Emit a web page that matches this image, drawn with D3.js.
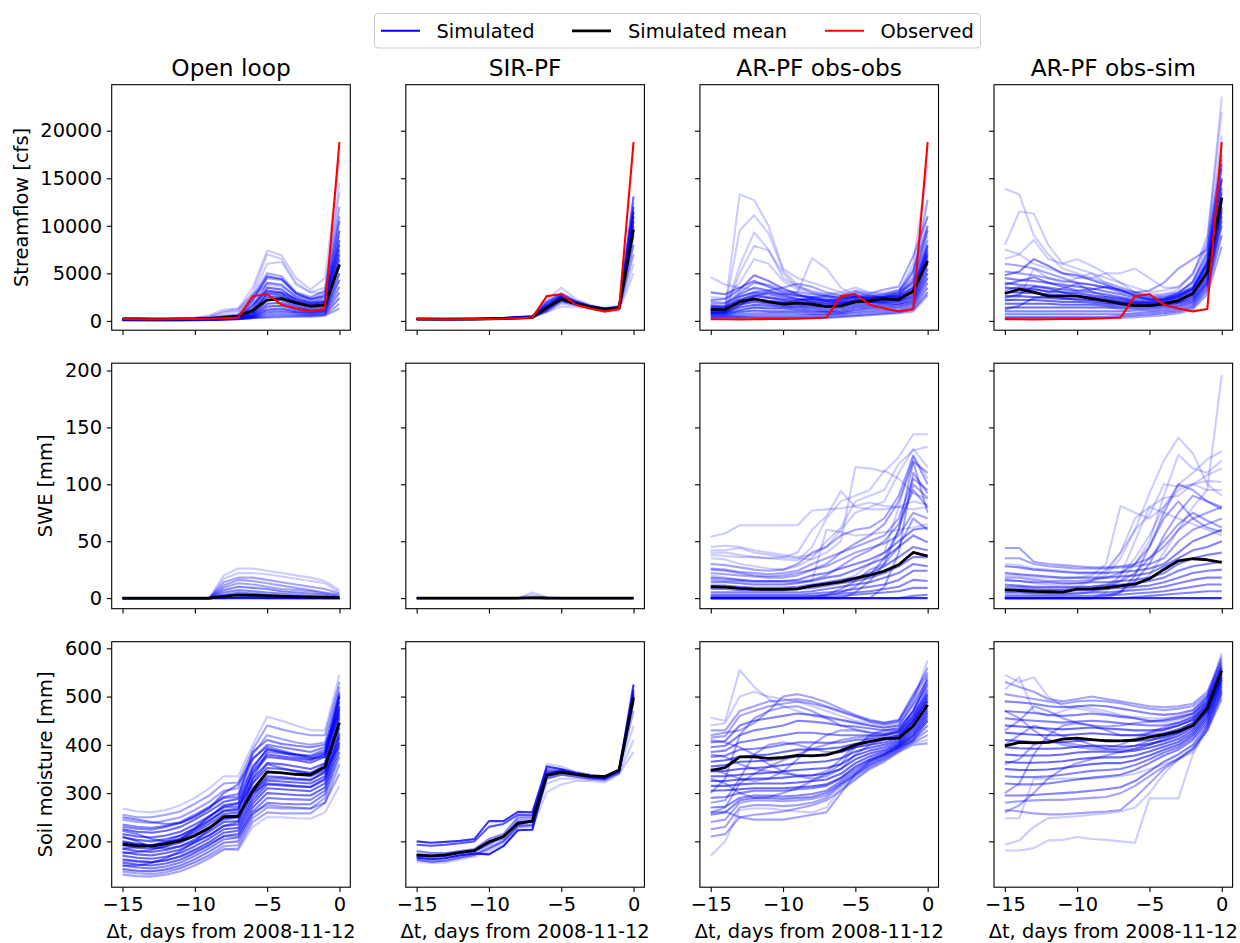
<!DOCTYPE html>
<html><head><meta charset="utf-8">
<script src="https://cdn.jsdelivr.net/npm/d3@7"></script>
<style>
body{margin:0;background:#fff}
svg{display:block}
text{font-family:"DejaVu Sans",sans-serif;fill:#000}
</style>
</head><body>
<svg id="c" width="1240" height="943"></svg>
<script>
// ---------------- DATA ----------------
const days = [-15,-14,-13,-12,-11,-10,-9,-8,-7,-6,-5,-4,-3,-2,-1,0];
const methods = ["Open loop","SIR-PF","AR-PF obs-obs","AR-PF obs-sim"];
const rowLabels = ["Streamflow [cfs]","SWE [mm]","Soil moisture [mm]"];
const xTicks = [-15,-10,-5,0];
const flowTicks = [0,5000,10000,15000,20000];
const sweTicks = [0,50,100,150,200];
const soilTicks = [200,300,400,500,600];
const xLabel = "Δt, days from 2008-11-12";
const legendLabels = ["Simulated","Simulated mean","Observed"];

const observedFlow = [180,170,160,170,190,200,230,280,350,2600,2800,1700,1300,1000,1250,18800];

// Streamflow, Open loop (each drawn line stands for "counts" similar members)
const flowOL = [
 [250,240,230,230,240,260,400,900,1300,3500,7400,6900,4500,3300,4500,16900],
 [220,210,200,200,210,240,350,700,1000,3000,7000,6500,4000,3000,3500,13500],
 [200,190,180,180,190,210,300,500,700,2500,5000,4700,3000,2500,3200,12000],
 [180,170,160,160,170,190,260,400,500,2000,4500,4300,2800,2200,2800,11000],
 [160,150,140,140,150,170,230,350,450,1500,4000,3800,2500,2000,2400,10500],
 [150,140,130,130,140,160,200,300,400,1200,3500,3300,2200,1800,2000,9500],
 [140,130,120,120,130,150,190,280,380,900,3000,2900,2000,1600,1800,8500],
 [130,120,110,110,120,140,170,260,350,800,2500,2500,1800,1400,1600,7500],
 [120,110,100,100,110,130,160,240,330,700,2200,2200,1600,1200,1400,6500],
 [110,100,90,90,100,120,150,220,300,600,1800,1900,1400,1100,1200,5800],
 [100,95,90,90,95,110,140,200,280,500,1500,1600,1200,1000,1100,5000],
 [100,90,85,85,90,100,130,190,260,450,1200,1300,1000,900,1000,4300],
 [90,85,80,80,85,95,120,170,240,400,1000,1100,900,800,900,3600],
 [90,80,75,75,80,90,110,160,220,350,800,900,800,700,800,3000],
 [80,75,70,70,75,85,100,150,200,320,600,700,650,600,700,2400],
 [80,70,65,65,70,80,95,140,180,300,400,500,500,500,600,1800],
 [70,65,60,60,65,75,90,130,170,280,350,400,450,450,550,1300],
 [300,290,280,280,300,350,600,1200,1300,2800,3800,3600,2600,2400,3000,14500],
 [200,195,190,190,200,220,280,450,550,2200,4700,4400,2900,2300,2600,8000],
 [170,160,150,150,160,180,220,320,420,1700,3200,3000,2300,1900,2100,7000],
 [260,250,240,240,250,280,450,1000,1100,2600,6000,6200,3800,3000,2900,9000],
 [150,145,140,140,145,160,200,300,380,1000,2800,2700,2000,1700,1900,6000]
];
const flowOLCounts = [1,1,2,2,3,4,4,4,4,4,4,4,3,3,3,2,2,1,4,4,1,4];
const flowOLMean = [210,200,190,190,200,220,260,350,490,1120,2175,2350,1900,1540,1650,5930];

// Streamflow, SIR-PF (identical resampled particles drawn with their copy count)
const flowSIR = [
 [230,220,210,220,230,250,300,400,480,2000,2900,2100,1600,1300,1500,13100],
 [220,210,200,210,220,240,290,380,460,1800,2700,2000,1550,1250,1450,12000],
 [210,200,195,200,210,230,280,370,450,1600,2600,1950,1500,1200,1400,11500],
 [200,195,190,195,205,225,270,360,440,1500,2500,1900,1480,1180,1380,11000],
 [200,190,185,190,200,220,260,350,430,1400,2400,1850,1450,1150,1350,10500],
 [195,185,180,185,195,215,255,340,420,1300,2300,1800,1420,1120,1320,10000],
 [190,180,175,180,190,210,250,330,410,1200,2200,1780,1400,1100,1300,9000],
 [185,175,170,175,185,200,240,320,400,1100,2100,1750,1380,1080,1280,8000],
 [180,170,165,170,180,195,235,310,390,1000,2000,1700,1350,1050,1250,7000],
 [175,165,160,165,175,190,230,300,380,950,1800,1650,1300,1000,1200,6000],
 [170,160,155,160,170,185,220,290,370,900,1500,1500,1250,950,1100,5000],
 [240,230,220,230,240,260,320,420,500,2200,3500,2300,1700,1350,1600,12500]
];
const flowSIRCounts = [4,5,7,6,5,4,3,3,2,1,1,1];
const flowSIRMean = [190,185,180,185,195,210,250,300,350,1370,2280,1820,1470,1260,1370,9600];

// Streamflow, AR-PF obs-obs
const flowOO = [
 [1500,1500,13300,12700,10000,5500,4500,4000,3500,3000,2500,2800,3000,3200,4000,8000],
 [1200,1300,9500,11100,9200,5300,3800,3000,2500,2300,2800,2500,2400,2600,5000,12800],
 [1000,1100,5800,9300,7500,4500,3600,3000,2800,3000,3500,3000,2800,3000,6000,16300],
 [900,1000,5000,7900,7400,5000,3500,3200,2800,2600,2400,2600,2800,3200,5500,11000],
 [4600,3800,3500,3300,3000,2800,3000,6600,5500,3500,2600,2400,2500,2700,4500,9800],
 [2500,2400,4000,6500,6000,4200,3300,2900,2700,2500,2700,2600,2800,3000,4000,9000],
 [1800,1800,3000,4000,3800,3200,3000,2800,2600,2400,2600,2500,2600,2800,3800,8500],
 [1500,1500,2800,3500,3200,2800,2600,2500,2300,2200,2500,2400,2500,2600,3500,8000],
 [1300,1300,2500,3000,2800,2500,2300,2200,2000,2000,2300,2200,2300,2400,3000,7500],
 [1200,1200,2200,2600,2400,2200,2000,2000,1800,1800,2200,2100,2200,2200,2800,7000],
 [1100,1100,2000,2300,2100,2000,1800,1800,1600,1700,2000,2000,2000,2100,2600,6500],
 [1000,1000,1700,2000,1800,1700,1600,1500,1400,1500,1800,1900,1900,2000,2400,6000],
 [900,900,1400,1700,1600,1500,1400,1300,1200,1300,1600,1700,1800,1800,2200,5500],
 [800,800,1100,1400,1300,1300,1200,1100,1000,1100,1400,1500,1600,1700,2000,5000],
 [700,700,900,1100,1000,1000,1000,900,900,900,1200,1300,1400,1500,1800,4500],
 [600,600,700,800,800,800,800,700,700,800,1000,1100,1200,1300,1600,4000],
 [500,500,500,600,600,600,600,600,600,700,800,900,1000,1100,1400,3500],
 [400,400,400,400,400,400,400,400,400,500,600,700,800,900,1200,3000],
 [300,300,300,300,300,300,300,300,300,400,500,600,700,800,1000,2700],
 [700,800,1200,1500,1400,1400,1500,1600,1500,1800,2200,2500,2800,3300,4500,12700],
 [2000,1900,2600,3000,3200,3500,3900,3600,3000,2700,3200,2900,3300,3600,6800,11000],
 [1600,1500,2200,2800,2500,2300,2200,2400,2200,2100,2500,2300,2600,3000,5200,10000],
 [3000,2800,3500,4200,3600,3000,2700,2500,2600,2400,3000,2700,2400,2500,3200,7800],
 [2200,2300,3300,4800,4200,3400,2800,2300,2100,2300,2600,2300,2500,2800,4200,9500],
 [800,900,1600,2600,3000,2700,2300,2000,1800,1900,2100,2200,2400,2600,3500,7200],
 [1400,1300,1800,2200,2000,1900,2100,2300,2100,1900,2000,2000,2100,2400,3200,6800]
];
const flowOOCounts = [1,1,1,1,1,1,2,3,3,4,4,4,4,4,4,3,3,3,2,1,2,3,3,3,3,3];
const flowOOMean = [1190,1190,2000,2320,2000,1750,1860,1750,1510,1580,2000,2140,2320,2250,3120,6280];

// Streamflow, AR-PF obs-sim
const flowOS = [
 [13900,13300,9000,7000,5500,5000,4500,4000,3500,3000,2800,2800,3000,4000,8000,23600],
 [8000,11500,11300,8000,6000,5500,5000,4500,4000,3500,3000,3200,3600,4800,9000,22000],
 [6500,7000,8500,6500,6000,6500,5800,5000,4000,3000,2600,2800,3300,5000,8500,19500],
 [7500,7000,6000,5500,5000,4500,4500,5000,5000,5500,4500,3500,3500,5000,8000,18000],
 [6000,5800,5500,5000,4500,4000,3800,3500,3200,3000,3200,4000,5500,6500,7500,17000],
 [5200,5000,4800,4500,4200,4000,3800,3500,3000,2800,2500,2600,3000,4000,7000,16000],
 [4500,4300,4200,4000,3800,3600,3400,3100,2800,2500,2300,2400,2800,3600,6500,15000],
 [4000,3800,3700,3500,3300,3100,3000,2800,2500,2300,2100,2200,2600,3300,6000,14000],
 [3500,3400,3300,3100,3000,2900,2700,2500,2300,2100,1900,2000,2400,3000,5500,13500],
 [3000,3000,2900,2800,2700,2600,2500,2300,2100,1900,1800,1900,2200,2800,5000,13000],
 [2600,2600,2500,2400,2300,2300,2200,2100,1900,1800,1700,1800,2000,2600,4800,12500],
 [2200,2200,2200,2100,2000,2000,1900,1800,1700,1600,1600,1700,1900,2400,4500,12000],
 [1800,1800,1800,1800,1700,1700,1700,1600,1500,1500,1500,1600,1800,2200,4200,11500],
 [1400,1400,1400,1400,1400,1400,1400,1400,1300,1300,1300,1400,1600,2000,4000,11000],
 [1000,1000,1000,1000,1000,1000,1000,1000,1000,1100,1100,1200,1400,1800,3800,10500],
 [700,700,700,700,700,700,700,700,700,800,900,1000,1200,1600,3500,10000],
 [400,400,400,400,400,400,400,400,500,600,700,800,1000,1400,3200,9000],
 [300,300,300,300,300,300,300,300,300,400,500,600,800,1200,2800,7800],
 [2000,2500,5500,4500,4000,4500,5000,4000,3500,3000,2500,2500,2800,3500,6000,15000],
 [3200,3600,3400,3000,3400,3900,3100,2600,2400,2000,2000,2300,2900,4200,7200,17500],
 [4800,5200,6500,5800,5000,4800,4300,3800,3200,2700,2300,2200,2600,3400,6200,16500],
 [3800,4200,4600,4000,3600,3200,3300,3600,3300,2600,2200,2300,2700,3400,6000,14800],
 [2400,2800,3600,3400,3000,2700,2400,2200,2000,1900,1900,2100,2500,3200,5800,12800],
 [1200,1600,2400,2600,2400,2200,2100,1900,1800,1700,1600,1800,2100,2800,5200,11800]
];
const flowOSCounts = [1,1,1,1,2,2,3,3,4,4,4,4,4,4,3,3,3,2,1,2,3,3,3,3];
const flowOSMean = [2880,3330,3020,2600,2600,2600,2350,2100,1820,1610,1610,1790,2140,2880,5120,12950];

// SWE, Open loop
const sweOL = [
 [0,0,0,0,0,0,0,20,26,26,24,22,20,18,15,7],
 [0,0,0,0,0,0,0,17,22,22,21,19,17,15,13,5],
 [0,0,0,0,0,0,0,14,18,18,16,14,12,10,8,4],
 [0,0,0,0,0,0,0,11,16,15,13,11,9,7,5,3],
 [0,0,0,0,0,0,0,9,13,12,10,8,7,6,4,2],
 [0,0,0,0,0,0,0,7,10,9,8,6,5,4,3,1],
 [0,0,0,0,0,0,0,5,7,6,5,4,3,2,1,0],
 [0,0,0,0,0,0,0,3,5,4,3,2,1,1,0,0],
 [0,0,0,0,0,0,0,2,3,2,1,1,0,0,0,0],
 [0,0,0,0,0,0,0,0,1,1,0,0,0,0,0,0],
 [0,0,0,0,0,0,0,0,0,0,0,0,0,0,0,0]
];
const sweOLCounts = [1,1,2,2,2,3,3,3,3,4,12];
const sweOLMean = [0,0,0,0,0,0,0,1.5,2.9,2.7,2.2,1.7,1.3,1.0,0.8,0.4];

// SWE, SIR-PF
const sweSIR = [
 [0,0,0,0,0,0,0,0,5,1,0,0,0,0,0,0],
 [0,0,0,0,0,0,0,0,3,0,0,0,0,0,0,0],
 [0,0,0,0,0,0,0,0,0,0,0,0,0,0,0,0]
];
const sweSIRCounts = [1,1,12];
const sweSIRMean = [0,0,0,0,0,0,0,0,0.5,0.1,0,0,0,0,0,0];

// SWE, AR-PF obs-obs
const sweOO = [
 [54,57,64,64,64,64,64,77,78,79,81,84,81,80,78,80],
 [45,46,45,42,40,38,36,38,45,60,75,80,85,110,131,115],
 [42,42,44,40,38,36,35,34,40,50,115,114,111,124,144,144],
 [40,40,38,36,35,36,40,60,72,94,80,78,78,80,85,82],
 [35,34,30,28,26,25,28,35,50,62,85,90,95,118,130,133],
 [30,29,27,25,24,25,30,40,45,55,60,62,70,90,125,100],
 [26,25,23,22,21,22,24,30,35,40,45,50,55,70,105,95],
 [22,21,20,19,18,18,20,25,28,34,40,44,48,55,75,70],
 [18,17,16,15,15,15,16,20,22,26,30,34,40,50,60,62],
 [14,14,13,12,12,12,13,15,18,20,25,30,35,45,55,49],
 [11,11,10,9,9,9,10,12,14,16,18,22,28,36,45,42],
 [8,8,7,7,7,7,8,9,11,13,15,18,22,28,36,36],
 [5,5,5,5,5,5,5,6,8,10,12,14,18,22,30,28],
 [3,3,3,3,3,3,3,4,5,6,8,10,12,16,24,24],
 [1,1,1,1,1,1,1,2,3,4,5,6,8,10,16,15],
 [0,0,0,0,0,0,0,0,1,2,3,4,5,6,9,9],
 [0,0,0,0,0,0,0,0,0,0,0,0,0,0,0,0],
 [0,0,0,0,0,0,0,0,0,0,0,0,0,0,2,3],
 [20,18,16,15,15,15,15,15,60,58,55,56,58,60,62,65],
 [10,10,9,9,9,9,9,10,12,15,20,30,40,80,125,105],
 [2,2,2,2,2,2,2,2,2,5,10,20,35,60,100,88],
 [38,37,36,36,35,34,33,45,70,85,90,95,112,105,92,87],
 [0,0,0,0,0,0,0,0,3,8,15,25,30,45,70,60],
 [16,15,15,14,14,14,14,16,20,28,36,42,50,65,95,80],
 [0,0,0,0,0,0,0,0,0,0,5,15,30,60,120,110],
 [0,0,0,0,0,0,0,0,0,0,0,0,10,40,110,92],
 [25,24,22,20,19,20,22,25,30,40,48,55,65,85,120,75]
];
const sweOOCounts = [1,1,1,1,1,2,2,2,3,3,3,3,3,3,3,3,8,3,1,1,2,1,2,2,2,2,2];
const sweOOMean = [10,9.7,8.5,7.9,7.6,7.6,8.2,10.8,12.6,14.3,17.3,20.2,23.7,29.3,40.1,36.9];

// SWE, AR-PF obs-sim
const sweOS = [
 [0,0,0,0,0,0,0,2,5,10,20,40,60,80,95,196],
 [10,10,8,7,7,10,15,25,40,60,92,121,141,127,100,90],
 [5,5,5,4,4,5,6,10,20,35,55,80,100,110,122,129],
 [3,3,3,3,3,4,5,8,15,30,50,90,126,114,110,121],
 [0,0,0,0,0,0,0,5,20,50,80,88,90,100,108,114],
 [15,15,13,12,12,13,15,20,35,60,73,100,98,100,103,102],
 [20,20,18,18,17,18,20,30,81,75,70,80,95,100,95,95],
 [44,44,32,30,29,28,27,27,28,30,35,45,60,70,75,80],
 [35,35,30,28,27,26,26,26,27,28,30,35,50,60,65,70],
 [28,27,25,24,23,22,22,22,23,24,26,30,40,50,55,60],
 [22,21,20,19,18,18,18,18,19,20,22,28,35,42,45,50],
 [16,15,14,14,13,13,14,14,15,16,18,22,30,35,38,40],
 [12,11,10,10,10,10,10,11,12,13,15,18,24,28,30,32],
 [8,8,7,7,7,7,7,8,9,10,11,14,18,22,24,25],
 [5,5,4,4,4,4,5,5,6,7,8,10,13,16,18,18],
 [2,2,2,2,2,2,2,3,3,4,5,6,8,10,12,12],
 [0,0,0,0,0,0,0,0,0,0,0,0,0,0,0,0],
 [0,0,0,0,0,0,0,0,0,1,2,3,4,5,6,6],
 [30,29,26,25,24,23,23,23,40,70,80,75,70,65,60,55],
 [0,0,0,0,0,0,0,2,6,15,30,55,75,90,85,78],
 [18,18,16,15,15,15,16,18,22,30,45,70,85,70,62,58],
 [0,0,0,0,0,0,0,0,5,20,45,75,100,95,85,80],
 [10,10,9,9,9,9,10,12,15,22,35,50,65,75,68,62]
];
const sweOSCounts = [1,1,1,1,1,1,1,2,2,3,3,3,3,3,3,3,8,3,1,2,2,2,2];
const sweOSMean = [7.3,6.7,5.9,5.6,5.3,7.9,8.2,9.1,10.8,12.3,17,25.2,32.8,34.6,33.7,31.3];

// Soil moisture, Open loop
const soilOL = [
 [268,262,260,265,275,290,310,335,335,400,458,450,440,430,430,545],
 [255,250,250,255,262,278,295,320,322,390,440,432,425,420,420,530],
 [245,240,238,243,250,265,282,305,310,380,420,412,405,400,405,520],
 [235,230,228,232,240,255,272,292,298,370,400,395,390,385,395,510],
 [225,220,218,222,230,245,262,282,288,355,390,385,380,375,385,500],
 [215,210,208,212,220,235,252,272,278,340,375,372,368,363,375,490],
 [208,203,200,205,212,226,244,264,268,330,362,360,355,350,362,475],
 [200,195,192,196,204,218,236,256,260,320,352,350,346,342,354,465],
 [192,187,185,190,197,211,228,248,250,310,344,342,338,335,348,455],
 [185,180,178,182,190,204,220,240,242,300,335,333,330,328,342,445],
 [178,173,171,176,183,197,213,232,235,292,326,324,322,320,335,435],
 [170,166,164,168,176,190,206,225,228,285,318,316,314,312,328,425],
 [163,159,157,161,169,183,199,218,222,278,310,308,306,304,320,415],
 [156,152,150,154,162,176,192,211,215,270,300,298,296,295,312,405],
 [150,146,144,148,156,170,186,204,208,262,290,288,287,286,305,395],
 [143,139,138,142,150,163,179,197,200,255,280,278,277,277,298,385],
 [137,134,132,136,144,157,172,190,192,248,270,268,268,268,290,375],
 [131,128,127,131,138,150,165,183,185,240,260,258,258,258,280,360],
 [140,138,137,140,146,156,170,185,181,230,250,250,248,247,260,315],
 [160,158,157,160,168,180,195,210,210,260,275,272,270,268,280,340],
 [230,226,224,230,238,252,270,290,292,385,410,402,398,395,400,470],
 [198,194,192,197,206,222,242,262,265,345,380,376,372,368,380,505],
 [250,245,240,236,238,250,268,300,318,372,396,388,380,372,375,480],
 [175,178,182,190,204,226,252,270,272,322,360,352,345,340,360,500],
 [210,200,188,185,190,200,212,232,240,330,385,382,380,378,390,460],
 [150,150,155,165,180,200,225,250,255,300,320,318,315,313,330,420],
 [222,215,205,200,202,210,225,245,250,300,330,330,328,326,345,400],
 [185,188,192,200,212,228,250,275,280,350,392,384,376,370,382,480]
];
const soilOLCounts = [1,2,2,3,4,4,4,4,4,4,4,4,4,4,3,3,2,2,1,2,3,4,3,3,3,3,3,3];
const soilOLMean = [194,191,190,195,201,212,228,251,252,305,344,342,339,338,354,446];

// Soil moisture, SIR-PF
const soilSIR = [
 [200,197,199,201,205,242,242,261,260,355,350,342,337,335,347,525],
 [193,191,193,196,200,230,236,255,254,345,345,340,336,333,345,515],
 [166,163,165,171,175,173,190,223,224,335,342,338,333,330,346,500],
 [170,168,170,176,180,195,210,240,242,340,345,340,335,333,347,505],
 [162,158,160,166,172,185,200,232,234,330,338,334,330,328,342,490],
 [158,155,156,162,168,180,195,228,230,302,318,325,325,322,340,385],
 [175,172,168,172,178,190,205,235,238,320,330,330,328,325,340,410],
 [172,170,171,177,181,200,205,245,246,340,346,340,336,334,348,470],
 [168,165,166,170,175,188,200,230,232,360,355,345,338,335,345,440],
 [180,176,176,180,184,205,215,250,250,350,348,341,336,334,346,510]
];
const soilSIRCounts = [7,5,9,6,4,1,1,2,1,3];
const soilSIRMean = [172,170,172,177,181,199,210,237,242,337,343,339,335,334,348,498];

// Soil moisture, AR-PF obs-obs
const soilOO = [
 [456,450,555,520,495,480,470,460,455,450,445,440,435,440,480,520],
 [440,445,500,510,500,495,490,480,470,460,450,445,440,445,490,575],
 [430,430,470,480,490,492,495,490,480,470,460,450,445,450,500,560],
 [415,418,460,470,480,485,490,485,478,468,458,448,442,448,495,545],
 [405,408,440,450,455,460,465,462,458,452,446,440,436,440,485,535],
 [395,398,420,430,435,440,450,448,445,440,438,434,430,435,470,525],
 [385,388,405,410,415,420,425,425,422,420,420,420,420,428,460,515],
 [375,378,390,392,395,400,405,405,404,405,410,412,415,420,455,505],
 [365,368,375,378,380,385,390,390,392,395,402,406,410,416,450,495],
 [355,358,365,366,368,372,376,378,380,385,395,400,405,412,445,490],
 [345,346,350,352,354,358,362,364,366,372,386,394,400,408,440,480],
 [335,335,338,340,342,345,348,350,352,360,378,388,395,405,435,475],
 [325,325,328,330,330,332,335,337,340,350,370,382,390,402,430,470],
 [315,315,318,320,320,320,322,325,328,340,362,376,386,400,425,465],
 [305,306,308,310,310,310,312,314,318,332,355,370,382,398,420,460],
 [290,292,300,305,305,305,308,310,315,330,350,368,380,396,418,455],
 [270,272,290,295,295,293,295,298,305,325,345,365,378,395,415,450],
 [255,260,285,290,290,288,290,292,300,320,340,360,375,392,410,440],
 [240,245,280,285,285,283,285,288,295,318,338,358,372,390,408,430],
 [225,230,270,275,275,273,275,280,290,315,335,355,370,388,405,420],
 [170,200,265,268,268,265,262,260,270,310,330,352,368,386,404,410],
 [210,215,250,255,258,262,268,275,285,305,328,350,365,385,400,403],
 [260,262,250,245,245,245,250,255,260,300,340,365,380,395,410,450],
 [420,425,430,445,470,500,505,498,488,475,462,452,446,452,505,550],
 [300,330,420,455,470,478,480,470,455,440,432,426,424,430,470,530],
 [350,340,330,325,330,345,370,400,420,430,430,425,422,428,465,510],
 [380,375,360,350,345,340,338,336,345,370,400,415,420,425,455,500],
 [260,270,320,340,355,368,380,392,400,410,415,418,420,425,460,505],
 [330,320,300,290,292,300,310,325,340,360,395,420,430,432,470,540],
 [280,285,330,380,400,405,400,392,385,385,395,405,412,420,450,490],
 [410,405,395,380,360,345,335,330,335,350,380,400,412,420,448,500]
];
const soilOOCounts = [1,1,2,2,3,3,3,3,4,4,4,4,4,4,4,3,3,3,2,2,1,2,2,2,2,2,2,2,2,2,2];
const soilOOMean = [347,353,375,375,372,374,378,377,379,388,400,407,413,414,439,483];

// Soil moisture, AR-PF obs-sim
const soilOS = [
 [545,530,540,500,480,475,470,465,460,458,455,455,460,470,500,590],
 [530,520,510,495,490,495,500,495,490,485,480,478,480,485,510,580],
 [505,500,495,490,485,490,492,490,486,480,475,472,475,480,505,575],
 [490,488,485,480,478,480,482,480,475,470,465,462,465,472,500,570],
 [470,468,466,462,460,462,465,462,458,455,450,450,455,465,495,565],
 [455,452,450,448,446,448,450,448,445,442,440,440,446,458,490,560],
 [440,438,436,434,432,434,436,434,432,430,430,432,440,452,485,555],
 [425,423,421,420,420,422,424,422,420,420,420,424,432,446,480,550],
 [410,408,406,405,406,408,410,410,408,408,410,416,425,440,475,545],
 [395,393,392,392,393,396,398,398,396,398,402,408,418,435,470,540],
 [380,378,378,378,380,384,386,386,385,388,394,402,412,430,465,535],
 [365,363,363,364,366,370,373,374,374,378,386,396,406,425,460,530],
 [350,348,348,349,352,356,360,362,362,368,378,390,400,420,455,525],
 [335,333,333,335,338,342,346,348,350,358,370,384,395,415,450,520],
 [320,318,318,320,324,328,332,335,338,348,362,378,390,410,445,515],
 [295,295,296,298,300,302,305,308,312,325,345,365,380,400,440,510],
 [280,283,285,286,286,288,290,292,300,315,335,355,372,392,435,505],
 [248,248,330,330,330,330,330,332,335,340,350,360,370,385,430,500],
 [181,181,186,202,203,209,205,203,200,197,289,289,289,380,440,540],
 [193,202,230,248,250,252,255,258,262,270,300,340,370,395,430,510],
 [265,262,258,256,256,258,260,262,265,290,320,350,370,390,430,495],
 [515,540,470,460,470,480,475,470,462,455,448,446,452,462,498,585],
 [430,450,480,470,455,445,440,438,440,445,448,452,458,465,490,560],
 [300,320,380,420,440,445,440,430,420,420,425,430,440,452,480,550],
 [470,455,430,410,400,395,392,390,392,398,408,418,430,445,475,545],
 [360,370,400,410,405,400,396,394,400,412,425,436,445,456,485,560],
 [260,275,300,330,350,362,370,378,385,392,400,412,425,440,470,540],
 [400,420,440,430,418,410,400,392,388,392,400,410,422,440,468,535]
];
const soilOSCounts = [1,2,2,3,3,3,4,4,4,4,4,4,4,3,3,3,2,1,1,1,2,1,2,2,2,2,2,2];
const soilOSMean = [398,405,404,405,412,414,411,408,408,410,416,421,428,440,476,554];

// ---------------- LAYOUT / STYLE ----------------
const svg = d3.select("#c");
svg.append("rect").attr("width",1240).attr("height",943).attr("fill","#fff");

const L0 = 111.7, colStep = 294.1, PW = 238.6;
const T0 = 84.7, rowStep = 278.5, PH = 245.5;
const rowDomains = [[-980,24840],[-9.3,206.4],[105,613.7]];
const rowTicks = [flowTicks, sweTicks, soilTicks];
const yLabelX = [27.5, 52.5, 52.5];
const FS = 19.4, TFS = 23.3;
const BASE_ALPHA = 0.2;
const fmt = d3.format("d");

const panels = [
 {r:0,c:0,ens:flowOL,counts:flowOLCounts,mean:flowOLMean,obs:observedFlow},
 {r:0,c:1,ens:flowSIR,counts:flowSIRCounts,mean:flowSIRMean,obs:observedFlow},
 {r:0,c:2,ens:flowOO,counts:flowOOCounts,mean:flowOOMean,obs:observedFlow},
 {r:0,c:3,ens:flowOS,counts:flowOSCounts,mean:flowOSMean,obs:observedFlow},
 {r:1,c:0,ens:sweOL,counts:sweOLCounts,mean:sweOLMean},
 {r:1,c:1,ens:sweSIR,counts:sweSIRCounts,mean:sweSIRMean},
 {r:1,c:2,ens:sweOO,counts:sweOOCounts,mean:sweOOMean},
 {r:1,c:3,ens:sweOS,counts:sweOSCounts,mean:sweOSMean},
 {r:2,c:0,ens:soilOL,counts:soilOLCounts,mean:soilOLMean},
 {r:2,c:1,ens:soilSIR,counts:soilSIRCounts,mean:soilSIRMean},
 {r:2,c:2,ens:soilOO,counts:soilOOCounts,mean:soilOOMean},
 {r:2,c:3,ens:soilOS,counts:soilOSCounts,mean:soilOSMean}
];

const defs = svg.append("defs");

panels.forEach((p,i)=>{
  const left = L0 + p.c*colStep, top = T0 + p.r*rowStep;
  const x = d3.scaleLinear().domain([-15.75,0.75]).range([0,PW]);
  const y = d3.scaleLinear().domain(rowDomains[p.r]).range([PH,0]);
  const g = svg.append("g").attr("transform",`translate(${left},${top})`);
  defs.append("clipPath").attr("id","clip"+i).append("rect").attr("width",PW).attr("height",PH);
  const plot = g.append("g").attr("clip-path",`url(#clip${i})`);
  const line = d3.line().x((d,k)=>x(days[k])).y(d=>y(d));

  plot.selectAll("path.ens").data(p.ens).join("path")
    .attr("class","ens")
    .attr("d",line)
    .attr("fill","none")
    .attr("stroke","#0000ff")
    .attr("stroke-width",2.1)
    .attr("stroke-linejoin","round")
    .attr("stroke-opacity",(d,k)=>1 - Math.pow(1-BASE_ALPHA, p.counts ? p.counts[k] : 1));

  plot.append("path").datum(p.mean).attr("d",line)
    .attr("fill","none").attr("stroke","#000").attr("stroke-width",2.8)
    .attr("stroke-linejoin","round");

  if (p.obs) {
    plot.append("path").datum(p.obs).attr("d",line)
      .attr("fill","none").attr("stroke","#ff0000").attr("stroke-width",2.1)
      .attr("stroke-linejoin","round");
  }

  // axes
  const yAxis = d3.axisLeft(y).tickValues(rowTicks[p.r]).tickSize(4.9).tickPadding(4.8).tickSizeOuter(0)
    .tickFormat(p.c === 0 ? fmt : "");
  const ya = g.append("g").call(yAxis);
  const xAxis = d3.axisBottom(x).tickValues(xTicks).tickSize(4.9).tickPadding(4.8).tickSizeOuter(0)
    .tickFormat(p.r === 2 ? fmt : "");
  const xa = g.append("g").attr("transform",`translate(0,${PH})`).call(xAxis);
  [ya,xa].forEach(a=>{
    a.attr("font-size",FS).attr("font-family","DejaVu Sans");
    a.select(".domain").remove();
    a.selectAll(".tick line").attr("stroke","#000").attr("stroke-width",1.1);
    a.selectAll(".tick text").attr("font-size",FS).attr("fill","#000");
  });

  g.append("rect").attr("width",PW).attr("height",PH)
    .attr("fill","none").attr("stroke","#000").attr("stroke-width",1.1);

  if (p.r === 0) {
    g.append("text").attr("x",PW/2).attr("y",-8.3).attr("text-anchor","middle")
      .attr("font-size",TFS).text(methods[p.c]);
  }
  if (p.r === 2) {
    g.append("text").attr("x",PW/2).attr("y",PH+50.5).attr("text-anchor","middle")
      .attr("font-size",FS).text(xLabel);
  }
  if (p.c === 0) {
    g.append("text").attr("transform",`translate(${yLabelX[p.r]-left},${PH/2}) rotate(-90)`)
      .attr("text-anchor","middle").attr("font-size",FS).text(rowLabels[p.r]);
  }
});

// legend
const lg = svg.append("g");
lg.append("rect").attr("x",374.5).attr("y",13.5).attr("width",606).attr("height",34.5).attr("rx",4)
  .attr("fill","#fff").attr("fill-opacity",0.8).attr("stroke","#cccccc").attr("stroke-width",1.1);
const legendItems = [
  {x:381, tx:436.5, color:"#0000ff", w:2.1},
  {x:572, tx:628, color:"#000", w:2.8},
  {x:825, tx:880.5, color:"#ff0000", w:2.1}
];
legendItems.forEach((it,k)=>{
  lg.append("line").attr("x1",it.x).attr("x2",it.x+39).attr("y1",30.8).attr("y2",30.8)
    .attr("stroke",it.color).attr("stroke-width",it.w);
  lg.append("text").attr("x",it.tx).attr("y",30.8).attr("dy","0.35em").attr("font-size",FS).text(legendLabels[k]);
});
</script>
</body></html>
